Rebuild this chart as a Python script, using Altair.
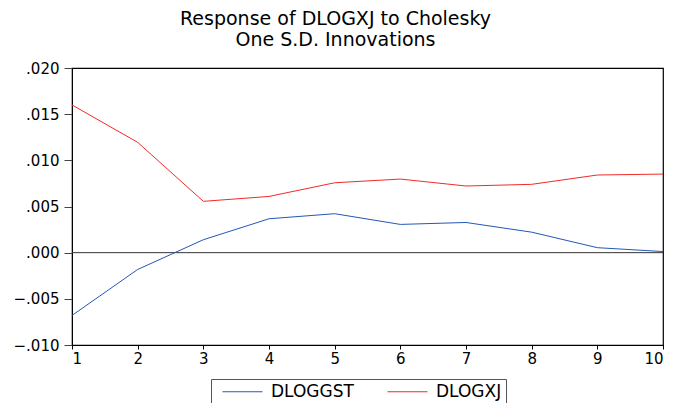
import altair as alt
import pandas as pd

periods = [1, 2, 3, 4, 5, 6, 7, 8, 9, 10]
dloggst = [-0.00680, -0.00182, 0.00140, 0.00367, 0.00422, 0.00306, 0.00327, 0.00222, 0.00054, 0.00012]
dlogxj = [0.01600, 0.01195, 0.00556, 0.00609, 0.00757, 0.00797, 0.00722, 0.00740, 0.00841, 0.00851]
series_names = ["DLOGGST", "DLOGXJ"]
y_ticks = [-0.010, -0.005, 0.000, 0.005, 0.010, 0.015, 0.020]

rows = []
for p, a, b in zip(periods, dloggst, dlogxj):
    rows.append({"period": p, "series": series_names[0], "value": a})
    rows.append({"period": p, "series": series_names[1], "value": b})
df = pd.DataFrame(rows)

FONT = "DejaVu Sans"

lines = alt.Chart(df).mark_line(strokeWidth=1).encode(
    x=alt.X("period:Q", scale=alt.Scale(domain=[1, 10], nice=False),
            axis=alt.Axis(values=periods, title=None, grid=False, tickSize=4,
                          labelFontSize=15, labelFont=FONT, labelColor="black",
                          domainColor="black", tickColor="black", labelPadding=2)),
    y=alt.Y("value:Q", scale=alt.Scale(domain=[-0.010, 0.020], nice=False),
            axis=alt.Axis(values=y_ticks, title=None, grid=False, tickSize=8,
                          labelExpr="replace(format(datum.value, '.3f'), '0.', '.')",
                          labelFontSize=15, labelFont=FONT, labelColor="black",
                          domainColor="black", tickColor="#444444", labelPadding=5)),
    color=alt.Color("series:N",
                    scale=alt.Scale(domain=series_names, range=["#2457b5", "#f22a2a"]),
                    legend=alt.Legend(title=None, orient="none", direction="horizontal",
                                      legendX=139, legendY=311,
                                      symbolType="M-0.2,0H7.8", symbolSize=100,
                                      symbolStrokeWidth=1, labelFontSize=17,
                                      labelFont=FONT, labelColor="black",
                                      strokeColor="#555555", padding=4,
                                      columnPadding=26, labelOffset=39)),
)

zero = alt.Chart(pd.DataFrame({"z": [0.0]})).mark_rule(color="#333333", strokeWidth=1).encode(
    y="z:Q"
)

chart = alt.layer(zero, lines).properties(
    width=591, height=277,
    title=alt.TitleParams(["Response of DLOGXJ to Cholesky", "One S.D. Innovations"],
                          fontSize=19, font=FONT, fontWeight="normal", color="black",
                          lineHeight=21, offset=11, dx=-32),
    autosize=alt.AutoSizeParams(type="none"),
    padding={"left": 72, "top": 68, "right": 12, "bottom": 58},
).configure_view(stroke="black", strokeWidth=1.2)

chart.save("out.html", embed_options={"renderer": "svg", "actions": False})
